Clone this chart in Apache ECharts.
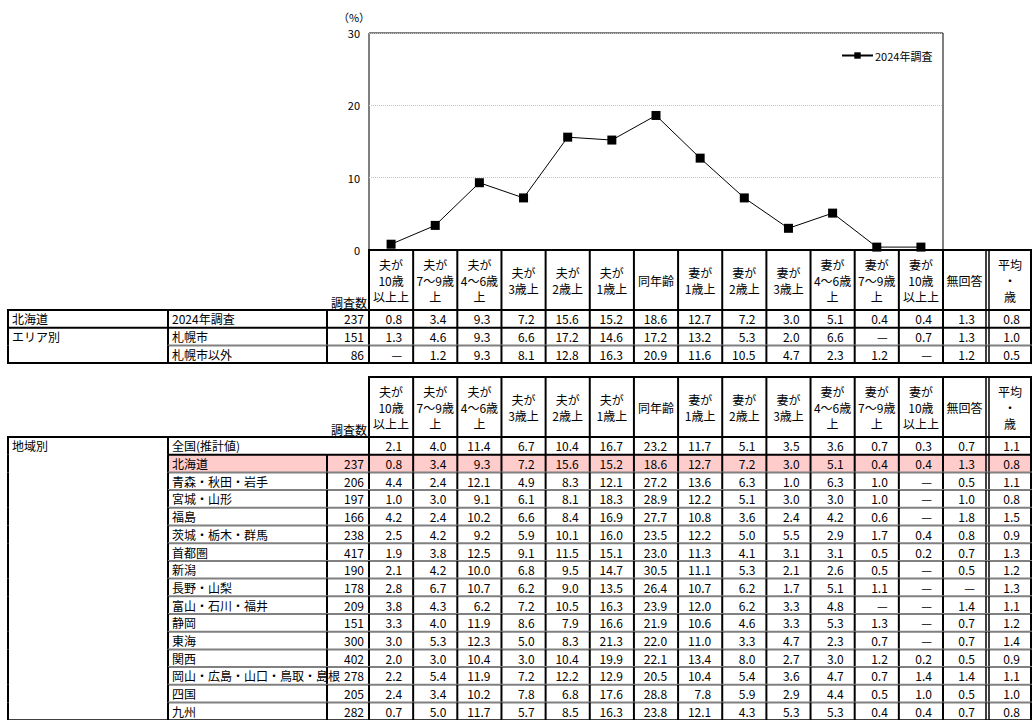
<!DOCTYPE html>
<html><head><meta charset="utf-8">
<script src="https://cdn.jsdelivr.net/npm/echarts@6/dist/echarts.min.js"></script>
<style>html,body{margin:0;padding:0;background:#fff;}#c{width:1032px;height:720px;}</style>
</head><body><div id="c"></div>
<script>
// ---- data ----
const categories = ['夫が10歳以上上','夫が7〜9歳上','夫が4〜6歳上','夫が3歳上','夫が2歳上','夫が1歳上','同年齢','妻が1歳上','妻が2歳上','妻が3歳上','妻が4〜6歳上','妻が7〜9歳上','妻が10歳以上上'];
const seriesName = '2024年調査';
const lineValues = [0.8,3.4,9.3,7.2,15.6,15.2,18.6,12.7,7.2,3.0,5.1,0.4,0.4];
const yTicks = [0,10,20,30];
const unitLabel = '（%）';

const colHeaders = [['夫が','10歳','以上上'],['夫が','7〜9歳','上'],['夫が','4〜6歳','上'],['夫が','3歳上'],['夫が','2歳上'],['夫が','1歳上'],['同年齢'],['妻が','1歳上'],['妻が','2歳上'],['妻が','3歳上'],['妻が','4〜6歳','上'],['妻が','7〜9歳','上'],['妻が','10歳','以上上'],['無回答'],['平均','・','歳']];
const countHeader = '調査数';

const t1Groups = ['北海道','エリア別',''];
const t1Labels = ['2024年調査','札幌市','札幌市以外'];
const t1Counts = ['237','151','86'];
const t1Values = [
 ['0.8','3.4','9.3','7.2','15.6','15.2','18.6','12.7','7.2','3.0','5.1','0.4','0.4','1.3','0.8'],
 ['1.3','4.6','9.3','6.6','17.2','14.6','17.2','13.2','5.3','2.0','6.6','—','0.7','1.3','1.0'],
 ['—','1.2','9.3','8.1','12.8','16.3','20.9','11.6','10.5','4.7','2.3','1.2','—','1.2','0.5']
];

const t2Group = '地域別';
const t2Labels = ['全国(推計値)','北海道','青森・秋田・岩手','宮城・山形','福島','茨城・栃木・群馬','首都圏','新潟','長野・山梨','富山・石川・福井','静岡','東海','関西','岡山・広島・山口・鳥取・島根','四国','九州'];
const t2Counts = ['','237','206','197','166','238','417','190','178','209','151','300','402','278','205','282'];
const t2Values = [
 ['2.1','4.0','11.4','6.7','10.4','16.7','23.2','11.7','5.1','3.5','3.6','0.7','0.3','0.7','1.1'],
 ['0.8','3.4','9.3','7.2','15.6','15.2','18.6','12.7','7.2','3.0','5.1','0.4','0.4','1.3','0.8'],
 ['4.4','2.4','12.1','4.9','8.3','12.1','27.2','13.6','6.3','1.0','6.3','1.0','—','0.5','1.1'],
 ['1.0','3.0','9.1','6.1','8.1','18.3','28.9','12.2','5.1','3.0','3.0','1.0','—','1.0','0.8'],
 ['4.2','2.4','10.2','6.6','8.4','16.9','27.7','10.8','3.6','2.4','4.2','0.6','—','1.8','1.5'],
 ['2.5','4.2','9.2','5.9','10.1','16.0','23.5','12.2','5.0','5.5','2.9','1.7','0.4','0.8','0.9'],
 ['1.9','3.8','12.5','9.1','11.5','15.1','23.0','11.3','4.1','3.1','3.1','0.5','0.2','0.7','1.3'],
 ['2.1','4.2','10.0','6.8','9.5','14.7','30.5','11.1','5.3','2.1','2.6','0.5','—','0.5','1.2'],
 ['2.8','6.7','10.7','6.2','9.0','13.5','26.4','10.7','6.2','1.7','5.1','1.1','—','—','1.3'],
 ['3.8','4.3','6.2','7.2','10.5','16.3','23.9','12.0','6.2','3.3','4.8','—','—','1.4','1.1'],
 ['3.3','4.0','11.9','8.6','7.9','16.6','21.9','10.6','4.6','3.3','5.3','1.3','—','0.7','1.2'],
 ['3.0','5.3','12.3','5.0','8.3','21.3','22.0','11.0','3.3','4.7','2.3','0.7','—','0.7','1.4'],
 ['2.0','3.0','10.4','3.0','10.4','19.9','22.1','13.4','8.0','2.7','3.0','1.2','0.2','0.5','0.9'],
 ['2.2','5.4','11.9','7.2','12.2','12.9','20.5','10.4','5.4','3.6','4.7','0.7','1.4','1.4','1.1'],
 ['2.4','3.4','10.2','7.8','6.8','17.6','28.8','7.8','5.9','2.9','4.4','0.5','1.0','0.5','1.0'],
 ['0.7','5.0','11.7','5.7','8.5','16.3','23.8','12.1','4.3','5.3','5.3','0.4','0.4','0.7','0.8']
];
const highlightRow = 1;

// ---- layout ----
const FONT = '"Noto Sans CJK JP", sans-serif';
const X0 = 8, X1 = 168, X2 = 327, X3 = 369, XP = 943, XN = 986, XA = 989, XR = 1031;
const W = (XP - X3) / categories.length;
const colL = [], colR = [];
for (let i = 0; i < 13; i++) { colL.push(X3 + i * W); colR.push(X3 + (i + 1) * W); }
colL.push(XP); colR.push(XN); colL.push(XA); colR.push(XR);
const ROWH = 17.7;

const G = [];
function line(x1, y1, x2, y2, c, w) { G.push({type:'line', z:30, silent:true, shape:{x1:x1,y1:y1,x2:x2,y2:y2}, style:{stroke:c||'#000', lineWidth:w||2}}); }
function text(x, y, s, al, va, size) { G.push({type:'text', z:40, silent:true, x:x, y:y, style:{text:s, fill:'#000', font:(size||12)+'px '+FONT, fontSize:size||12, fontFamily:FONT, align:al||'left', verticalAlign:va||'middle', textAlign:al||'left', textVerticalAlign:va||'middle'}}); }
function rect(x, y, w, h, c) { G.push({type:'rect', z:10, silent:true, shape:{x:x,y:y,width:w,height:h}, style:{fill:c}}); }

function header(top, bot) {
  const cy = (top + bot) / 2;
  colHeaders.forEach((h, i) => {
    const cx = (colL[i] + colR[i]) / 2;
    const n = h.length;
    h.forEach((s, k) => text(cx, cy + (k - (n - 1) / 2) * 16, s, 'center', 'middle'));
  });
  text(X3 - 2, bot - 8, countHeader, 'right', 'middle');
  line(X3 - 1, top, XR + 1, top, '#000', 2);
  [X3].concat(colR.slice(0, 13)).forEach(x => line(x, top, x, bot, '#000', 2));
  line(XN, top, XN, bot, '#000', 1.5); line(XA, top, XA, bot, '#000', 1.5);
  line(XR, top, XR, bot, '#000', 2);
}
function bodyVLines(y1, y2, withX2) {
  [X0, X1].forEach(x => line(x, y1, x, y2, '#000', 2));
  if (withX2) line(X2, y1, X2, y2, '#000', 2);
  [X3].concat(colR.slice(0, 13)).forEach(x => line(x, y1, x, y2, '#000', 2));
  line(XN, y1, XN, y2, '#000', 1.5); line(XA, y1, XA, y2, '#000', 1.5);
  line(XR, y1, XR, y2, '#000', 2);
}
function rowValues(y, vals) {
  vals.forEach((v, i) => text(colR[i] - 11, y, v, 'right', 'middle'));
}

// table 1
const T1T = 250, T1B = 310;
header(T1T, T1B);
t1Labels.forEach((lab, r) => {
  const y0 = T1B + r * ROWH, y1 = y0 + ROWH, cy = (y0 + y1) / 2;
  if (t1Groups[r]) text(X0 + 4, cy, t1Groups[r], 'left', 'middle');
  text(X1 + 4, cy, lab, 'left', 'middle');
  text(X3 - 5, cy, t1Counts[r], 'right', 'middle');
  rowValues(cy, t1Values[r]);
  bodyVLines(y0, y1, true);
  if (r < t1Labels.length - 1) {
    if (t1Groups[r + 1]) line(X0 - 1, y1, XR + 1, y1, '#000', 2);
    else line(X1, y1, XR + 1, y1, '#808080', 2);
  }
});
line(X0 - 1, T1B, XR + 1, T1B, '#000', 2);
line(X0 - 1, T1B + t1Labels.length * ROWH, XR + 1, T1B + t1Labels.length * ROWH, '#000', 2);

// table 2
const T2T = 377, T2B = 437;
header(T2T, T2B);
text(X0 + 4, T2B + ROWH / 2, t2Group, 'left', 'middle');
t2Labels.forEach((lab, r) => {
  const y0 = T2B + r * ROWH, y1 = y0 + ROWH, cy = (y0 + y1) / 2;
  if (r === highlightRow) rect(X1, y0, XR - X1, ROWH, '#ffcccc');
  text(X1 + 4, cy, lab, 'left', 'middle');
  if (t2Counts[r]) text(X3 - 5, cy, t2Counts[r], 'right', 'middle');
  rowValues(cy, t2Values[r]);
  bodyVLines(y0, y1, !!t2Counts[r]);
  if (r < t2Labels.length - 1) {
    if (r === 0) line(X1, y1, XR + 1, y1, '#000', 2);
    else line(X1, y1, XR + 1, y1, '#808080', 2);
  }
});
line(X0 - 1, T2B, XR + 1, T2B, '#000', 2);
line(X0 - 1, T2B + t2Labels.length * ROWH, XR + 1, T2B + t2Labels.length * ROWH, '#000', 2);

// unit label
text(354, 17, unitLabel, 'center', 'middle', 11);

const chart = echarts.init(document.getElementById('c'), null, {renderer:'svg'});
chart.setOption({
  animation: false,
  backgroundColor: '#fff',
  grid: {left: X3, top: 33, width: XP - X3, height: 217, show: true, borderColor: '#000', borderWidth: 1, containLabel: false},
  legend: {data: [seriesName], left: 836, top: 45, itemWidth: 31, itemHeight: 8, itemGap: 4,
    textStyle: {fontSize: 11, fontFamily: FONT, color: '#000', padding: [0,0,0,-3]}},
  xAxis: {type: 'category', data: categories, boundaryGap: true,
    axisLabel: {show: false}, axisTick: {show: false},
    axisLine: {show: true, lineStyle: {color: '#000', width: 2}}},
  yAxis: {type: 'value', min: yTicks[0], max: yTicks[yTicks.length - 1], interval: 10,
    axisLine: {show: false}, axisTick: {show: false},
    axisLabel: {fontSize: 11, fontFamily: FONT, color: '#000', margin: 9},
    splitLine: {show: true, lineStyle: {color: '#c8c89a', type: 'dotted', width: 1}}},
  series: [{type: 'line', name: seriesName, data: lineValues, symbol: 'rect', symbolSize: 9,
    itemStyle: {color: '#000'}, lineStyle: {color: '#000', width: 1}, z: 5}],
  graphic: {elements: G}
});
</script></body></html>
